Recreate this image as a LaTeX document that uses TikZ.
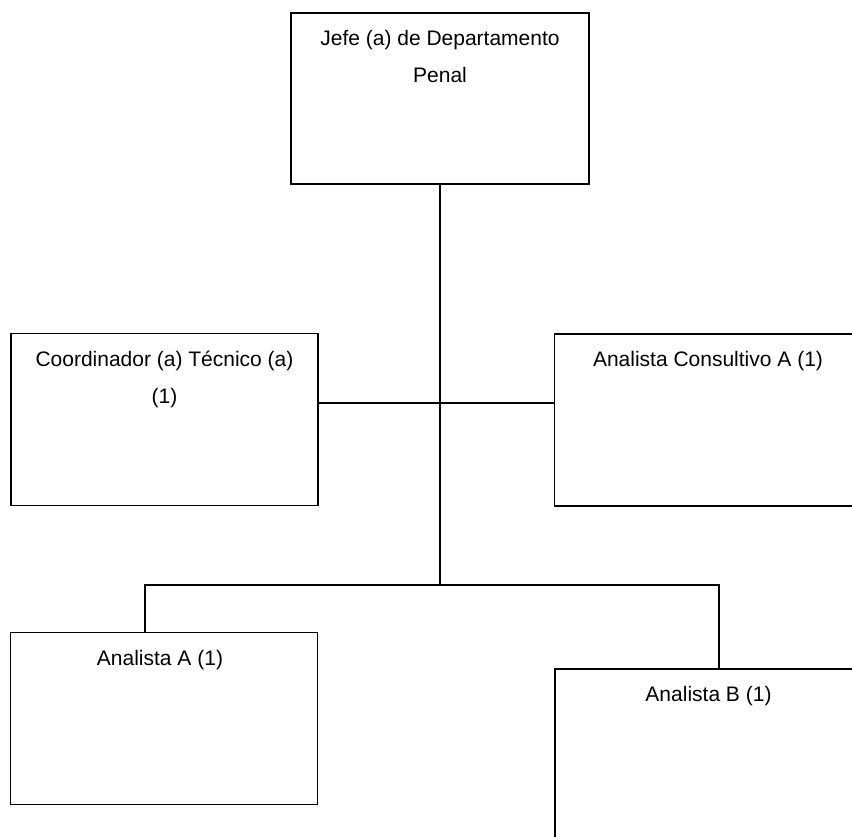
\documentclass[tikz,border=0pt]{standalone}
\usepackage{fontspec}
\setmainfont{Liberation Sans}
\usepackage{tikz}

\begin{document}
\begin{tikzpicture}[x=1pt,y=-1pt,line width=1.6pt,
  box/.style={draw,rectangle,inner sep=0pt,minimum width=307pt,minimum height=172pt},
  txt/.style={anchor=north,inner sep=0pt,align=center,yshift=-17.5pt,
    font=\fontsize{21}{37}\selectfont}]
\path[use as bounding box,clip] (0,0) rectangle (852,837);

\node[box,minimum width=298pt,minimum height=171pt] (jefe) at (440,98.5) {};
\node[box] (coord) at (164.5,419.5) {};
\node[box] (cons) at (708,420) {};
\node[box] (anA) at (164,718.5) {};
\node[box] (anB) at (708.5,755) {};

\node[txt] (jefe-t) at (jefe.north) {Jefe (a) de Departamento\\Penal};
\node[txt] (coord-t) at (coord.north) {Coordinador (a) Técnico (a)\\(1)};
\node[txt] (cons-t) at (cons.north) {Analista Consultivo A (1)};
\node[txt,xshift=-4pt] (anA-t) at (anA.north) {Analista A (1)};
\node[txt] (anB-t) at (anB.north) {Analista B (1)};

\coordinate (hub) at (440,585);
\draw (jefe.south) -- (hub);
\draw (coord.east |- 0,403) -- (cons.west |- 0,403);
\draw (hub) -| (anA.north -| 145,0);
\draw (hub) -| (anB.north -| 719,0);
\end{tikzpicture}
\end{document}
